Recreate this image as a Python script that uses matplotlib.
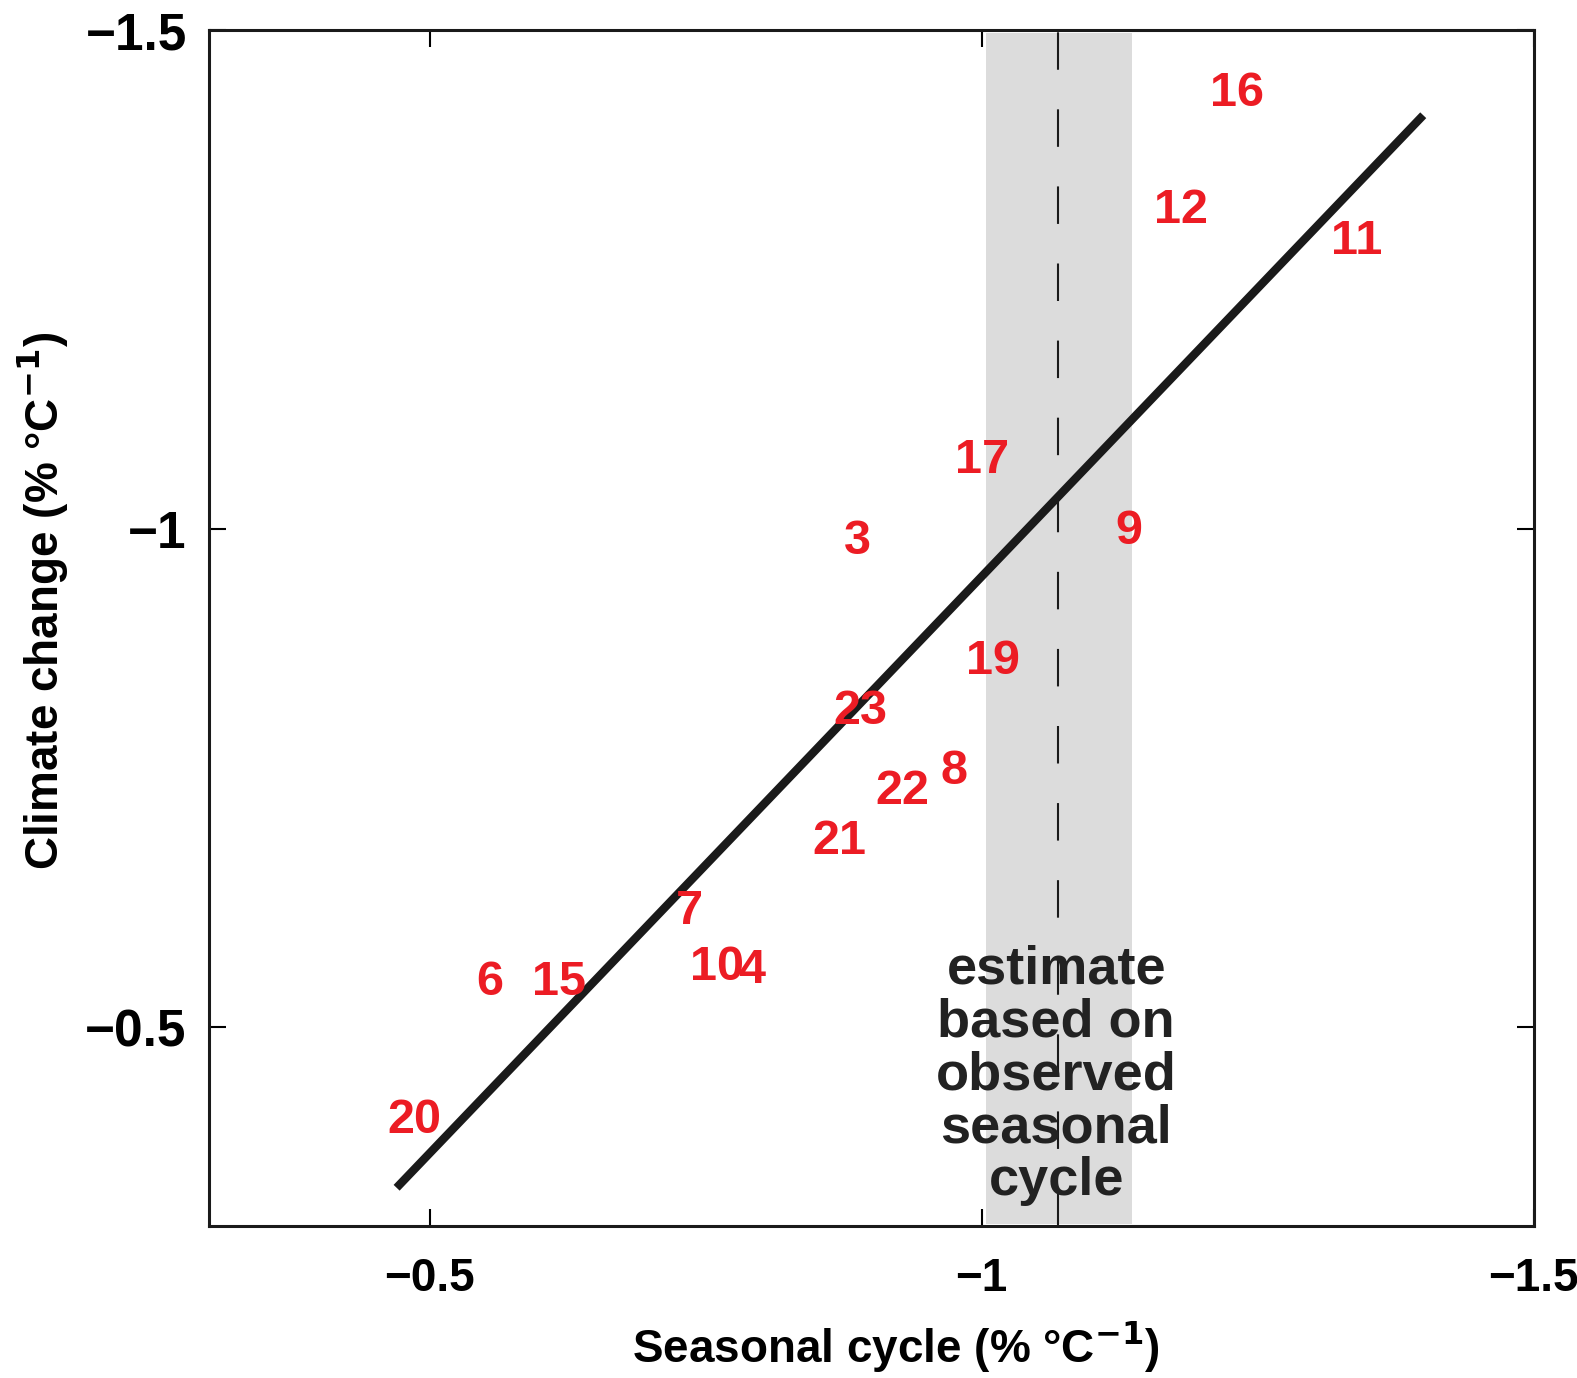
import matplotlib
matplotlib.use('Agg')
import matplotlib.pyplot as plt
from matplotlib.transforms import ScaledTranslation

# model numbers and their (seasonal cycle, climate change) sensitivities
model_ids = ['16', '12', '11', '17', '3', '9', '19', '23', '8', '22',
             '21', '7', '10', '4', '6', '15', '20']
seasonal = [-1.231, -1.181, -1.340, -1.000, -0.887, -1.133, -1.010, -0.890, -0.975, -0.928,
            -0.871, -0.735, -0.760, -0.792, -0.554, -0.617, -0.486]
climate = [-1.437, -1.319, -1.288, -1.068, -0.987, -0.997, -0.867, -0.817, -0.756, -0.736,
           -0.686, -0.616, -0.560, -0.557, -0.545, -0.545, -0.406]

# regression line: y = intercept + slope * x
fit_x = [-0.470, -1.400]
slope = 1.157
intercept = 0.205

# observed estimate and its range
obs_value = -1.0695
obs_range = [-1.004, -1.136]

plt.rcParams['font.family'] = ['Liberation Sans', 'DejaVu Sans']
plt.rcParams['font.weight'] = 'bold'

fig = plt.figure(figsize=(15.77, 13.78), dpi=100)
ax = fig.add_axes([0.1325, 0.110, 0.840, 0.868])

# grey band and dashed line for the observed value
ax.axvspan(obs_range[0], obs_range[1], ymin=0.002, ymax=0.998, color='#dcdcdc', lw=0, zorder=0)
ax.axvline(obs_value, color='#1a1a1a', lw=1.5, dashes=(18, 19), zorder=1)

fit_y = [intercept + slope * x for x in fit_x]
ax.plot(fit_x, fit_y, color='#1a1a1a', lw=6, solid_capstyle='butt', zorder=2)

for name, x, y in zip(model_ids, seasonal, climate):
    ax.text(x, y, name, color='#ec1c24', fontsize=35, fontweight='bold',
            ha='center', va='center', zorder=3)

ax.text(obs_value + 0.002, -0.32,
        'estimate\nbased on\nobserved\nseasonal\ncycle',
        color='#222222', fontsize=39, fontweight='bold',
        ha='center', va='bottom', linespacing=1.08, zorder=3)

ax.set_xlim(-0.3, -1.5)
ax.set_ylim(-0.3, -1.5)
ax.set_xticks([-0.5, -1, -1.5])
ax.set_xticklabels(['\u22120.5', '\u22121', '\u22121.5'], fontsize=33)
ax.set_yticks([-0.5, -1, -1.5])
ax.set_yticklabels(['\u22120.5', '\u22121', '\u22121.5'], fontsize=37)

# x tick labels sit a little left of their ticks, as in the original
shift = ScaledTranslation(-12 / 72, 0, fig.dpi_scale_trans)
for lab in ax.get_xticklabels():
    lab.set_transform(lab.get_transform() + shift)

ax.tick_params(direction='in', length=12, width=1.5, top=True, right=True)
ax.tick_params(axis='x', pad=22)
ax.tick_params(axis='y', pad=16)
for spine in ax.spines.values():
    spine.set_linewidth(2.2)
    spine.set_color('#1a1a1a')

ax.set_xlabel('Seasonal cycle (% \u00b0C$^{\\mathbf{-1}}$)', fontsize=33, fontweight='bold')
ax.set_ylabel('Climate change (% \u00b0C$^{\\mathbf{-1}}$)', fontsize=33, fontweight='bold')
ax.xaxis.set_label_coords(0.519, -0.078)
ax.yaxis.set_label_coords(-0.104, 0.523)

fig.savefig('out.png', dpi=100)
